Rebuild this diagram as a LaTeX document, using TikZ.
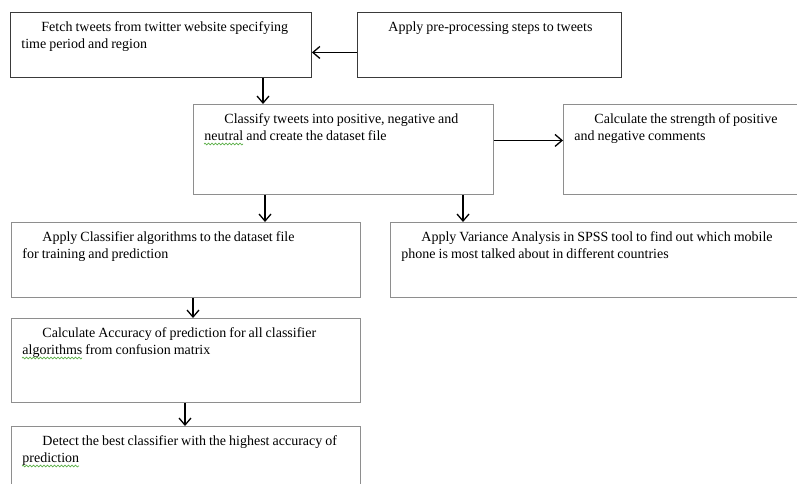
\documentclass[tikz,border=0pt]{standalone}
\usepackage{fontspec}
\setmainfont{Liberation Serif}
\usepackage{xcolor}
\usetikzlibrary{arrows.meta,decorations.pathmorphing}

\definecolor{darkframe}{HTML}{3A3A3A}
\definecolor{lightframe}{HTML}{8E8E8E}
\definecolor{squiggle}{HTML}{5DB04A}
\newcommand{\ind}{\spaceskip=3pt plus 1pt\relax\hspace*{20pt}}

\begin{document}
\begin{tikzpicture}[x=1pt, y=-1pt,
    stepbox/.style={draw=lightframe, line width=0.9pt, anchor=north west, inner xsep=11pt, inner ysep=0pt,
        align=left, font=\fontsize{14}{17}\selectfont, text height=19.5pt},
    darkbox/.style={stepbox, draw=darkframe},
    flow/.style={-{Straight Barb[length=7pt,width=12pt]}, line width=1.3pt, black},
    typo/.style={squiggle, line width=0.7pt, decorate, decoration={snake, amplitude=0.9pt, segment length=3.5pt}}]
    \useasboundingbox (0,0) rectangle (797,484);
    \clip (0,0) rectangle (797,484);

    \node[darkbox, text width=279pt, text depth=45.5pt] (fetch) at (10,12)
        {\ind Fetch tweets from twitter website specifying\\time period and region};
    \node[darkbox, text width=242pt, text depth=45.5pt] (prep) at (357,12)
        {\ind Apply pre-processing steps to tweets};
    \node[stepbox, text width=278pt, text depth=70.5pt] (classify) at (193,104)
        {\ind Classify tweets into positive, negative and\\neutral and create the dataset file};
    \node[stepbox, text width=238pt, text depth=70.5pt] (strength) at (563,104)
        {\ind Calculate the strength of positive\\and negative comments};
    \node[stepbox, text width=327pt, text depth=55.5pt] (train) at (11,222)
        {\ind Apply Classifier algorithms to the dataset file\\for training and prediction};
    \node[stepbox, text width=408pt, text depth=55.5pt] (spss) at (390,222)
        {\ind Apply Variance Analysis in SPSS tool to find out which mobile\\phone is most talked about in different countries};
    \node[stepbox, text width=327pt, text depth=64.5pt] (accuracy) at (11,318)
        {\ind Calculate Accuracy of prediction for all classifier\\algorithms from confusion matrix};
    \node[stepbox, text width=327pt, text depth=60.5pt] (best) at (11,426)
        {\ind Detect the best classifier with the highest accuracy of\\prediction};

    % spell-check marks
    \draw[typo] ([xshift=11pt, yshift=-40pt]classify.north west) -- ++(39,0);
    \draw[typo] ([xshift=11pt, yshift=-40pt]accuracy.north west) -- ++(60,0);
    \draw[typo] ([xshift=11pt, yshift=-40pt]best.north west) -- ++(57,0);

    \draw[flow] ([yshift=-7.5pt]prep.west) -- ([yshift=-7.5pt]fetch.east);
    \draw[flow] ([xshift=253pt]fetch.south west) -- ([xshift=70pt]classify.north west);
    \draw[flow] ([yshift=9pt]classify.east) -- ([yshift=9pt]strength.west);
    \draw[flow] ([xshift=72pt]classify.south west) -- ([xshift=254pt]train.north west);
    \draw[flow] ([xshift=270pt]classify.south west) -- ([xshift=73pt]spss.north west);
    \draw[flow] ([xshift=182pt]train.south west) -- ([xshift=182pt]accuracy.north west);
    \draw[flow] ([xshift=174pt]accuracy.south west) -- ([xshift=174pt]best.north west);
\end{tikzpicture}
\end{document}
